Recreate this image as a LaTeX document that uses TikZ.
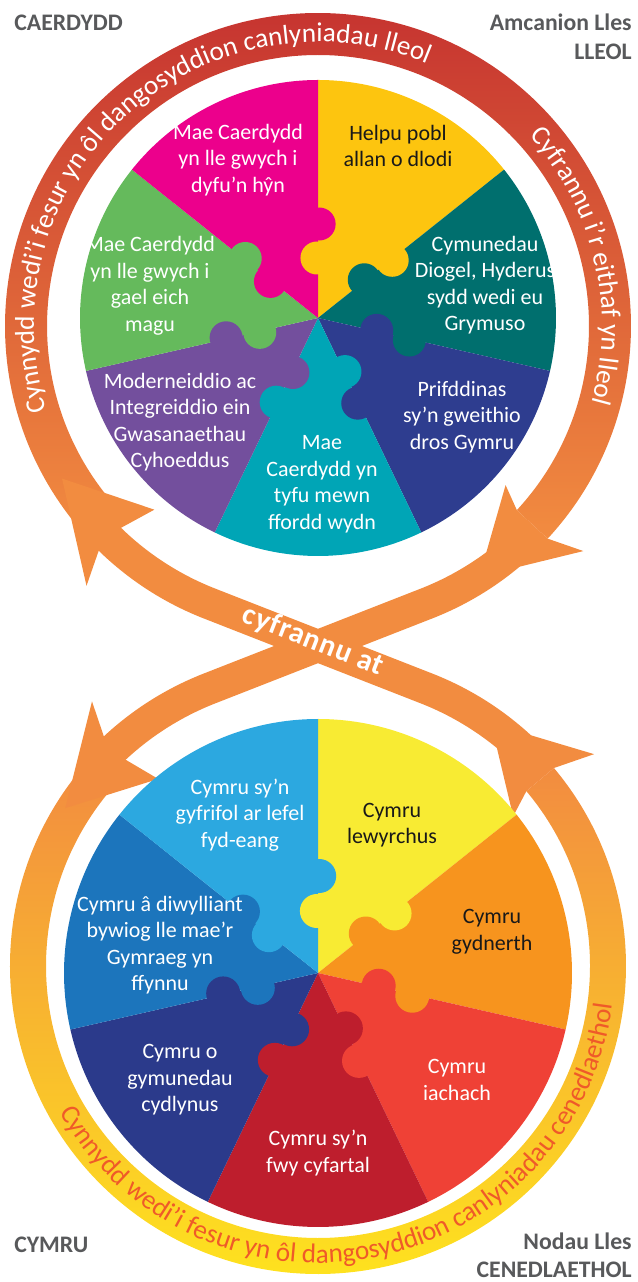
\documentclass[tikz,border=0pt]{standalone}
\usepackage{fontspec}
\setmainfont{Carlito}
\usetikzlibrary{calc,decorations.text}

% slice colours
\definecolor{tyellow}{HTML}{FDC50F}
\definecolor{tteal}{HTML}{006F6E}
\definecolor{tnavy}{HTML}{2E3D8F}
\definecolor{tcyan}{HTML}{00A5B6}
\definecolor{tpurple}{HTML}{734F9D}
\definecolor{tgreen}{HTML}{65BA5C}
\definecolor{tmagenta}{HTML}{EC008C}
\definecolor{byellow}{HTML}{F8EB33}
\definecolor{borange}{HTML}{F7941E}
\definecolor{bred}{HTML}{EF4136}
\definecolor{bcrimson}{HTML}{BE1E2D}
\definecolor{bnavy}{HTML}{2B3A8B}
\definecolor{bblue}{HTML}{1C75BC}
\definecolor{blight}{HTML}{2CA8E0}
% ring colours
\definecolor{bandorange}{HTML}{F28C40}
\definecolor{ringred}{HTML}{C32E2F}
\definecolor{ringmid}{HTML}{EC723A}
\definecolor{ringamber}{HTML}{F9AE3C}
\definecolor{ringyellow}{HTML}{FFE81C}
\definecolor{ringtext}{HTML}{EF5A29}
\definecolor{cornergrey}{HTML}{58595B}

\newcommand\ringfont{\fontsize{15.5}{15.5}\selectfont}
\def\ringhead(#1)(#2:#3:#4)(#5:#6){\fill[bandorange] ($(#1)+(#2:298)$) -- ($(#1)+(#4:348)$) -- ($(#1)+(#3:#6)$) -- ($(#1)+(#3:#5)$) -- ($(#1)+(#4:246)$) -- cycle;}

\tikzset{
  band/.style={draw=bandorange, line width=6.4mm},
  slicetext/.style={align=center, text=white, inner sep=0pt, font=\fontsize{12.5}{15.1}\selectfont},
  darktext/.style={slicetext, text=black!90},
  corner/.style={inner sep=0pt, text=cornergrey, font=\fontsize{13.5}{16}\selectfont\bfseries},
}

\begin{document}
\begin{tikzpicture}[x=0.02cm, y=0.02cm]
			\useasboundingbox (0,0) rectangle (638,1282);
			%%%%% START %%%%%
			
			\coordinate (tr) at (318,956);
			\coordinate (br) at (318,316);
			\coordinate (tp) at (318,964);
			\coordinate (bp) at (318,309);
			
			% crossing bands
			\draw[band] ($(tr)+(-44:298)$) arc[start angle=-44, end angle=-68.64, radius=298] -- ($(br)+(111.36:298)$) arc[start angle=111.36, end angle=135, radius=298];
			\draw[band] ($(br)+(41.5:298)$) arc[start angle=41.5, end angle=68.64, radius=298] -- ($(tr)+(248.64:298)$) arc[start angle=248.64, end angle=224, radius=298];
			
			% rings
			\shade[top color=ringred, middle color=ringmid, bottom color=bandorange] ($(tr)+(218.5:313)$) arc[start angle=218.5, end angle=-42.8, radius=313] -- ($(tr)+(-42.8:271)$) arc[start angle=-42.8, end angle=218.5, radius=271] -- cycle;
			\shade[top color=bandorange, middle color=ringamber, bottom color=ringyellow] ($(br)+(140:308)$) arc[start angle=140, end angle=400, radius=308] -- ($(br)+(400:272)$) arc[start angle=400, end angle=140, radius=272] -- cycle;
			
			\ringhead(tr)(210.8:225.7:228.3)(282:314)
			\ringhead(tr)(-57.2:-42.8:-40.3)(271:313)
			\ringhead(br)(148:133:130.5)(282:314)
			\ringhead(br)(54.5:40:37.5)(272:308)
			
			% top pie
			\foreach \col [count=\i] in {tyellow,tteal,tnavy,tcyan,tpurple,tgreen,tmagenta}{
				\pgfmathsetmacro\startang{90-(\i-1)*360/7}
				\pgfmathsetmacro\stopang{\startang-360/7}
				\fill[\col] (tp) -- ($(tp)+(\startang:238)$) arc[start angle=\startang, end angle=\stopang, radius=238] -- cycle;
			}
			\foreach \col/\prev [count=\i] in {tyellow/tmagenta,tteal/tyellow,tnavy/tteal,tcyan/tnavy,tpurple/tcyan,tgreen/tpurple,tmagenta/tgreen}{
				\pgfmathsetmacro\startang{90-(\i-1)*360/7}
				\fill[\col] ($(tp)+(\startang+1:60)$) circle[radius=16.5];
				\fill[\prev] ($(tp)+(\startang-0.7:94)$) circle[radius=16.5];
			}
			
			% bottom pie
			\foreach \col [count=\i] in {byellow,borange,bred,bcrimson,bnavy,bblue,blight}{
				\pgfmathsetmacro\startang{90-(\i-1)*360/7}
				\pgfmathsetmacro\stopang{\startang-360/7}
				\fill[\col] (bp) -- ($(bp)+(\startang:254)$) arc[start angle=\startang, end angle=\stopang, radius=254] -- cycle;
			}
			\foreach \col/\prev [count=\i] in {byellow/blight,borange/byellow,bred/borange,bcrimson/bred,bnavy/bcrimson,bblue/bnavy,blight/bblue}{
				\pgfmathsetmacro\startang{90-(\i-1)*360/7}
				\fill[\col] ($(bp)+(\startang+1:62)$) circle[radius=17];
				\fill[\prev] ($(bp)+(\startang-0.7:97)$) circle[radius=17];
			}
			
			% ring texts
			\path[decorate, decoration={text along path, text align=center, text color=white, text={|\ringfont|Cynnydd wedi’i fesur yn ôl dangosyddion canlyniadau lleol}}] ($(tr)+(214.4:284)$) arc[start angle=214.4, end angle=50.4, radius=284];
			\path[decorate, decoration={text along path, text align=center, text color=white, text={|\ringfont|Cyfrannu i’r eithaf yn lleol}}] ($(tr)+(53.2:284)$) arc[start angle=53.2, end angle=-26.8, radius=284];
			\path[decorate, decoration={text along path, text align=center, text color=ringtext, text={|\ringfont|Cynnydd wedi’i fesur yn ôl dangosyddion canlyniadau cenedlaethol}}] ($(br)+(191:297)$) arc[start angle=191, end angle=371, radius=297];
			
			\node[font=\fontsize{17}{17}\selectfont\bfseries\addfontfeatures{LetterSpace=3}, text=white, rotate=-21.4] (cyfrannu) at (313,641) {cyfrannu at};
			
			% top pie texts
			\node[slicetext] (dyfu) at (238,1122) {Mae Caerdydd\\yn lle gwych i\\dyfu’n hŷn};
			\node[darktext] (dlodi) at (398,1136) {Helpu pobl\\allan o dlodi};
			\node[slicetext] (grymuso) at (485,997) {Cymunedau\\Diogel, Hyderus\\sydd wedi eu\\Grymuso};
			\node[slicetext] (prifddinas) at (462,865) {Prifddinas\\sy’n gweithio\\dros Gymru};
			\node[slicetext] (wydn) at (322,798) {Mae\\Caerdydd yn\\tyfu mewn\\ffordd wydn};
			\node[slicetext] (gwasanaethau) at (180,860) {Moderneiddio ac\\Integreiddio ein\\Gwasanaethau\\Cyhoeddus};
			\node[slicetext] (magu) at (150,996) {Mae Caerdydd\\yn lle gwych i\\gael eich\\magu};
			
			% bottom pie texts
			\node[slicetext] (fydeang) at (240,467) {Cymru sy’n\\gyfrifol ar lefel\\fyd-eang};
			\node[darktext] (lewyrchus) at (392,457) {Cymru\\lewyrchus};
			\node[darktext] (gydnerth) at (492,350) {Cymru\\gydnerth};
			\node[slicetext] (iachach) at (457,202) {Cymru\\iachach};
			\node[slicetext] (cyfartal) at (318,129) {Cymru sy’n\\fwy cyfartal};
			\node[slicetext] (cydlynus) at (180,202) {Cymru o\\gymunedau\\cydlynus};
			\node[slicetext] (diwylliant) at (160,337) {Cymru â diwylliant\\bywiog lle mae’r\\Gymraeg yn\\ffynnu};
			
			% corner labels
			\node[corner, anchor=base west] (caerdydd) at (14,1251) {CAERDYDD};
			\node[corner, anchor=base east] (amcanion) at (632,1251) {Amcanion Lles};
			\node[corner, anchor=base east] (lleol) at (632,1222) {LLEOL};
			\node[corner, anchor=base west] (cymru) at (14,30) {CYMRU};
			\node[corner, anchor=base east] (nodau) at (632,32) {Nodau Lles};
			\node[corner, anchor=base east] (cenedlaethol) at (632,5) {CENEDLAETHOL};
			
			%%%%% END %%%%%
\end{tikzpicture}
\end{document}
